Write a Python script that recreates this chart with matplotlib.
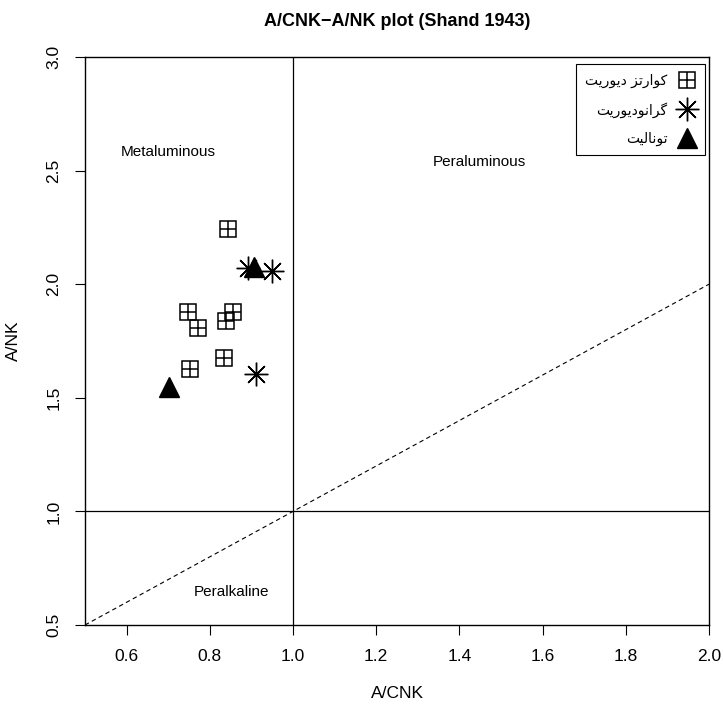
import matplotlib
matplotlib.use("Agg")
import matplotlib.pyplot as plt
from matplotlib.lines import Line2D
from matplotlib.legend_handler import HandlerTuple

plt.rcParams['font.family'] = ['Liberation Sans', 'DejaVu Sans']

# data
qd_x = [0.844, 0.748, 0.772, 0.856, 0.839, 0.834, 0.752]
qd_y = [2.242, 1.877, 1.806, 1.877, 1.837, 1.674, 1.626]
gd_x = [0.892, 0.950, 0.911]
gd_y = [2.070, 2.057, 1.604]
tn_x = [0.906, 0.702]
tn_y = [2.075, 1.546]

legend_labels = ["کوارتز دیوریت", "گرانودیوریت", "تونالیت"]
x_ticks = [0.6, 0.8, 1.0, 1.2, 1.4, 1.6, 1.8, 2.0]
y_ticks = [0.5, 1.0, 1.5, 2.0, 2.5, 3.0]

# minimal Persian shaping (matplotlib does not shape Arabic script)
FORMS = {
    'ک': ('\uFB8E', '\uFB8F', '\uFB90', '\uFB91'),
    'گ': ('\uFB92', '\uFB93', '\uFB94', '\uFB95'),
    'ی': ('\uFBFC', '\uFBFD', '\uFBFE', '\uFBFF'),
    'ت': ('\uFE95', '\uFE96', '\uFE97', '\uFE98'),
    'ن': ('\uFEE5', '\uFEE6', '\uFEE7', '\uFEE8'),
    'ل': ('\uFEDD', '\uFEDE', '\uFEDF', '\uFEE0'),
    'و': ('\uFEED', '\uFEEE', None, None),
    'ا': ('\uFE8D', '\uFE8E', None, None),
    'ر': ('\uFEAD', '\uFEAE', None, None),
    'ز': ('\uFEAF', '\uFEB0', None, None),
    'د': ('\uFEA9', '\uFEAA', None, None),
}


def dual(c):
    return c in FORMS and FORMS[c][2] is not None


def shape(text):
    out = []
    for i, c in enumerate(text):
        if c not in FORMS:
            out.append(c)
            continue
        prev = text[i - 1] if i > 0 else ''
        nxt = text[i + 1] if i + 1 < len(text) else ''
        join_prev = dual(prev)
        join_next = dual(c) and nxt in FORMS
        f = FORMS[c]
        if join_prev and join_next:
            out.append(f[3])
        elif join_prev:
            out.append(f[1])
        elif join_next:
            out.append(f[2])
        else:
            out.append(f[0])
    return ''.join(out)[::-1]


fig = plt.figure(figsize=(7.23, 7.04), dpi=100)
ax = fig.add_axes([85 / 723, 1 - 625 / 704, 624 / 723, 568 / 704])

ax.axvline(1.0, color='black', lw=0.9)
ax.axhline(1.0, color='black', lw=0.9)
ax.plot([0.5, 2.0], [0.5, 2.0], ls=(0, (4, 3)), color='black', lw=0.8)

ax.plot(qd_x, qd_y, 's', ms=11, mfc='none', mec='black', mew=1.1)
ax.plot(qd_x, qd_y, '+', ms=11, mec='black', mew=1.1)
ax.plot(gd_x, gd_y, marker=(8, 2, 0), ls='none', ms=17, mec='black', mew=1.0)
ax.plot(tn_x, tn_y, '^', ms=14, color='black')

ax.text(0.70, 2.58, "Metaluminous", ha='center', va='center', fontsize=11)
ax.text(1.447, 2.54, "Peraluminous", ha='center', va='center', fontsize=11)
ax.text(0.851, 0.647, "Peralkaline", ha='center', va='center', fontsize=11)

ax.set_xlim(0.5, 2.0)
ax.set_ylim(0.5, 3.0)
ax.set_xticks(x_ticks)
ax.set_yticks(y_ticks)
ax.set_yticklabels([f"{v:.1f}" for v in y_ticks], rotation=90, va='center')
ax.tick_params(direction='out', length=7, labelsize=12.5, pad=10)
for s in ax.spines.values():
    s.set_linewidth(1.0)

ax.set_xlabel("A/CNK", fontsize=12.5, labelpad=16)
ax.set_ylabel("A/NK", fontsize=12.5, labelpad=18)
ax.set_title("A/CNK\u2212A/NK plot (Shand 1943)", fontsize=13, fontweight='bold', pad=22)

h_sq = (Line2D([], [], marker='s', ls='none', ms=11, mfc='none', mec='black', mew=1.1),
        Line2D([], [], marker='+', ls='none', ms=11, mec='black', mew=1.1))
h_st = Line2D([], [], marker=(8, 2, 0), ls='none', ms=17, mec='black', mew=1.0)
h_tr = Line2D([], [], marker='^', ls='none', ms=14, color='black')
ax.legend([h_sq, h_st, h_tr], [shape(t) for t in legend_labels],
          handler_map={tuple: HandlerTuple(ndivide=1)},
          loc='upper right', bbox_to_anchor=(0.9936, 0.9877),
          markerfirst=False, fancybox=False, edgecolor='black',
          prop={'family': ['DejaVu Sans'], 'size': 10},
          handlelength=1.2, handletextpad=0.8, labelspacing=1.0,
          borderpad=0.7, borderaxespad=0, framealpha=1)
ax.get_legend().get_frame().set_linewidth(0.8)

fig.savefig("out.png", dpi=100)
